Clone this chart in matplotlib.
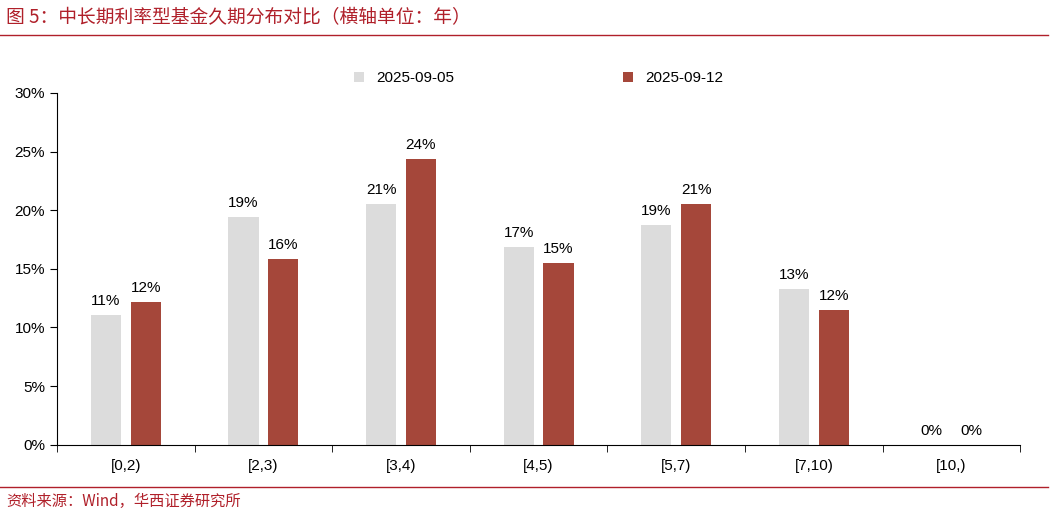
import matplotlib
matplotlib.use("Agg")
import matplotlib.pyplot as plt
import numpy as np

plt.rcParams['font.family'] = ['Liberation Sans', 'Noto Sans CJK SC', 'DejaVu Sans']

categories = ['[0,2)', '[2,3)', '[3,4)', '[4,5)', '[5,7)', '[7,10)', '[10,)']
s1_name, s2_name = '2025-09-05', '2025-09-12'
s1 = [11.1, 19.4, 20.5, 16.9, 18.7, 13.3, 0.0]
s2 = [12.2, 15.8, 24.4, 15.5, 20.5, 11.5, 0.0]
labels1 = ['11%', '19%', '21%', '17%', '19%', '13%', '0%']
labels2 = ['12%', '16%', '24%', '15%', '21%', '12%', '0%']

fig = plt.figure(figsize=(10.53, 5.16), dpi=100)
ax = fig.add_axes([0.054, 0.138, 0.915, 0.682])
x = np.arange(len(categories))
w = 0.22
c1, c2 = '#dcdcdc', '#a5473a'
ax.bar(x - 0.145, s1, w, color=c1, label=s1_name)
ax.bar(x + 0.145, s2, w, color=c2, label=s2_name)
for i in range(len(x)):
    ax.text(x[i] - 0.145, s1[i] + 0.6, labels1[i], ha='center', va='bottom', fontsize=11)
    ax.text(x[i] + 0.145, s2[i] + 0.6, labels2[i], ha='center', va='bottom', fontsize=11)
ax.set_xlim(-0.5, len(x) - 0.5)
ax.set_ylim(0, 30)
ax.set_yticks(range(0, 31, 5))
ax.set_yticklabels([f'{v}%' for v in range(0, 31, 5)], fontsize=11)
ax.set_xticks(x)
ax.set_xticklabels(categories, fontsize=11)
ax.set_xticks(np.arange(-0.5, len(x), 1), minor=True)
ax.tick_params(axis='x', which='major', length=0, pad=10)
ax.tick_params(axis='x', which='minor', length=5, direction='out')
ax.tick_params(axis='y', length=5, direction='out')
for s in ['top', 'right']:
    ax.spines[s].set_visible(False)
ax.legend(loc='upper center', bbox_to_anchor=(0.5, 1.1), ncol=2, frameon=False,
          fontsize=11, handlelength=0.7, handleheight=0.7, columnspacing=11)

fig.text(0.006, 0.965, '图 5：中长期利率型基金久期分布对比（横轴单位：年）', fontsize=13.5,
         color='#b0202a', va='center', family=['Noto Sans CJK SC'])
fig.add_artist(plt.Line2D([0.0, 0.995], [0.932, 0.932], color='#b0202a', lw=1))
fig.add_artist(plt.Line2D([0.0, 0.995], [0.057, 0.057], color='#b0202a', lw=1))
fig.text(0.006, 0.028, '资料来源：Wind，华西证券研究所', fontsize=11, color='#b0202a',
         va='center', family=['Noto Sans CJK SC'])
fig.savefig('out.png', dpi=100)
